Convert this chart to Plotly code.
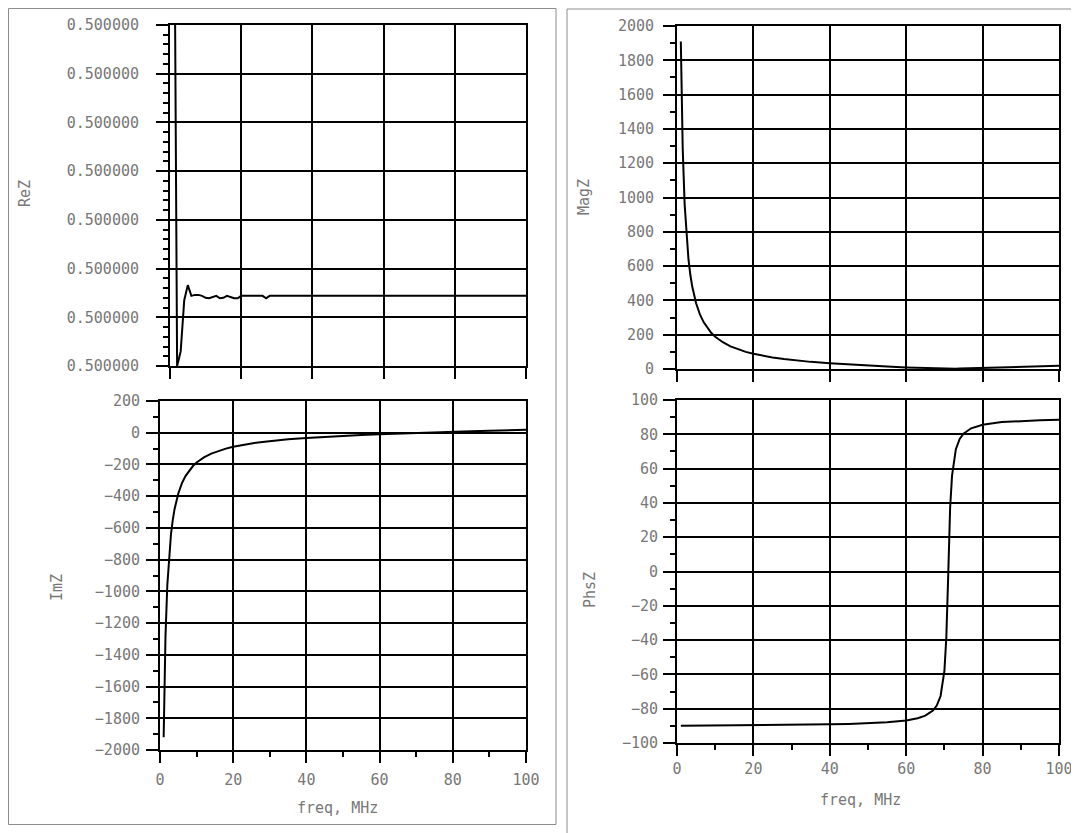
import plotly.graph_objects as go

# ---------------- data ----------------
freq_re = [1, 2, 3, 4, 5, 6, 7, 8, 9, 10, 11, 12, 13, 14, 15, 16, 17, 18, 19, 20,
           26, 27, 28, 100]
re_z = [0.500000125, 0.5000000000, 0.5000000030, 0.5000000135, 0.5000000166,
        0.5000000144, 0.5000000146, 0.5000000146, 0.5000000144, 0.5000000140,
        0.5000000139, 0.5000000142, 0.5000000144, 0.5000000139, 0.5000000140,
        0.5000000144, 0.5000000141, 0.5000000139, 0.5000000139, 0.5000000144,
        0.5000000144, 0.5000000139, 0.5000000144, 0.5000000144]

freq = [1, 1.5, 2, 2.5, 3, 3.5, 4, 5, 6, 7, 8, 9, 10, 12, 14, 16, 18, 20, 22, 25,
        28, 31, 35, 40, 45, 50, 55, 60, 63, 65, 67, 68, 69, 70, 70.5, 71, 71.5,
        72, 73, 74, 75, 77, 80, 85, 90, 95, 100]

im_z = [-1920, -1281, -960, -768, -640, -548, -479, -383, -318, -272, -237, -210,
        -188, -156, -132, -114, -100, -88.5, -79, -67.4, -58, -50.2, -41.6, -32.8,
        -25.6, -19.4, -14.0, -9.2, -6.5, -4.8, -3.2, -2.4, -1.6, -0.8, -0.4, 0.0,
        0.38, 0.74, 1.48, 2.21, 2.95, 4.38, 6.45, 9.77, 12.9, 16.0, 18.9]

mag_z = [1910, 1281, 960, 768, 640, 548, 479, 383, 318, 272, 237, 210, 188, 156,
         132, 114, 100, 88.5, 79, 67.4, 58, 50.2, 41.6, 32.8, 25.6, 19.4, 14.0,
         9.2, 6.5, 4.8, 3.2, 2.4, 1.7, 0.94, 0.64, 0.5, 0.63, 0.9, 1.56, 2.27, 3.0,
         4.4, 6.5, 9.8, 12.9, 16.0, 18.9]

phs_z = [-89.99, -89.98, -89.97, -89.96, -89.96, -89.95, -89.94, -89.93, -89.91,
         -89.89, -89.88, -89.86, -89.85, -89.82, -89.78, -89.75, -89.71, -89.68,
         -89.64, -89.57, -89.51, -89.43, -89.31, -89.13, -88.88, -88.52, -87.95,
         -86.89, -85.6, -84.05, -81.1, -78.2, -72.6, -58.0, -38.7, -2.0, 37.2,
         55.9, 71.3, 77.3, 80.4, 83.5, 85.6, 87.1, 87.8, 88.2, 88.5]

x_title = "freq, MHz"
titles = ["ReZ", "ImZ", "MagZ", "PhsZ"]

# ---------------- layout helpers ----------------
# the page body has an 8px margin, so the figure is placed at (8, 8)
OFF = 8
W, H = 1079 - OFF, 833 - OFF
FONT = "DejaVu Sans Mono"
GRAY = "#777777"


def px(x):
    return (x - OFF) / W


def py(y):
    return 1 - (y - OFF) / H


def xd(a, b):
    return [px(a), px(b)]


def yd(top, bottom):
    return [py(bottom), py(top)]


def xaxis(dom, anchor, labels, standoff=4):
    return dict(domain=dom, anchor=anchor, range=[0, 100], dtick=20, tick0=0,
                automargin=False, ticklabeloverflow="allow",
                showline=True, linecolor="black", linewidth=2, mirror=True,
                showgrid=True, gridcolor="black", gridwidth=2, zeroline=False,
                ticks="outside", ticklen=11, tickwidth=2, tickcolor="black",
                showticklabels=labels, ticklabelstandoff=standoff,
                tickfont=dict(family=FONT, size=15, color=GRAY),
                minor=dict(ticks="outside", ticklen=5, tickwidth=2,
                           tickcolor="black", dtick=10) if labels else dict(ticks=""),
                fixedrange=True)


def yaxis(dom, anchor, rng, dtick, mdtick, standoff, fmt=None, tick0=0):
    d = dict(domain=dom, anchor=anchor, range=rng, dtick=dtick, tick0=tick0,
             automargin=False, ticklabeloverflow="allow",
             showline=True, linecolor="black", linewidth=2, mirror=True,
             showgrid=True, gridcolor="black", gridwidth=2, zeroline=False,
             ticks="outside", ticklen=12, tickwidth=2, tickcolor="black",
             ticklabelstandoff=standoff,
             tickfont=dict(family=FONT, size=15, color=GRAY),
             minor=dict(ticks="outside", ticklen=5, tickwidth=2,
                        tickcolor="black", dtick=mdtick, tick0=tick0),
             fixedrange=True)
    if fmt:
        d["tickformat"] = fmt
    return d


line = dict(color="black", width=2)

fig = go.Figure()
fig.add_trace(go.Scatter(x=freq_re, y=re_z, mode="lines", line=line,
                         xaxis="x", yaxis="y", showlegend=False))
fig.add_trace(go.Scatter(x=freq, y=im_z, mode="lines", line=line,
                         xaxis="x2", yaxis="y2", showlegend=False))
fig.add_trace(go.Scatter(x=freq, y=mag_z, mode="lines", line=line,
                         xaxis="x3", yaxis="y3", showlegend=False))
fig.add_trace(go.Scatter(x=freq, y=phs_z, mode="lines", line=line,
                         xaxis="x4", yaxis="y4", showlegend=False))

ann_font = dict(family=FONT, size=15, color=GRAY)
annotations = [
    dict(text=titles[0], x=px(25), y=py(194), textangle=-90),
    dict(text=titles[1], x=px(57), y=py(588), textangle=-90),
    dict(text=titles[2], x=px(584), y=py(197), textangle=-90),
    dict(text=titles[3], x=px(590), y=py(590), textangle=-90),
    dict(text=x_title, x=px(337), y=py(808), textangle=0),
    dict(text=x_title, x=px(860), y=py(800), textangle=0),
]
for a in annotations:
    a.update(xref="paper", yref="paper", showarrow=False, font=ann_font,
             xanchor="center", yanchor="middle")

shapes = [
    dict(type="rect", xref="paper", yref="paper", x0=px(8.5), x1=px(556),
         y0=py(824.5), y1=py(8.5), line=dict(color="#8c8c8c", width=1)),
    dict(type="rect", xref="paper", yref="paper", x0=px(567), x1=px(1100),
         y0=py(860), y1=py(9), line=dict(color="#8c8c8c", width=1)),
]

fig.update_layout(
    width=W, height=H, autosize=False,
    margin=dict(l=0, r=0, t=0, b=0, pad=0, autoexpand=False),
    paper_bgcolor="white", plot_bgcolor="white",
    showlegend=False,
    xaxis=xaxis(xd(170, 526), "y", False),
    yaxis=yaxis(yd(25, 366), "x", [0.5, 0.50000007], 1e-8, 2e-9, 14,
                fmt=".6f", tick0=0.5),
    xaxis2=xaxis(xd(160, 526), "y2", True, standoff=4),
    yaxis2=yaxis(yd(401, 750), "x2", [-2000, 200], 200, 100, 3),
    xaxis3=xaxis(xd(677, 1059), "y3", False),
    yaxis3=yaxis(yd(26, 369), "x3", [0, 2000], 200, 100, 6),
    xaxis4=xaxis(xd(677, 1059), "y4", True, standoff=0),
    yaxis4=yaxis(yd(400, 743), "x4", [-100, 100], 20, 10, 2),
    annotations=annotations,
    shapes=shapes,
)

fig.write_html("out.html")
